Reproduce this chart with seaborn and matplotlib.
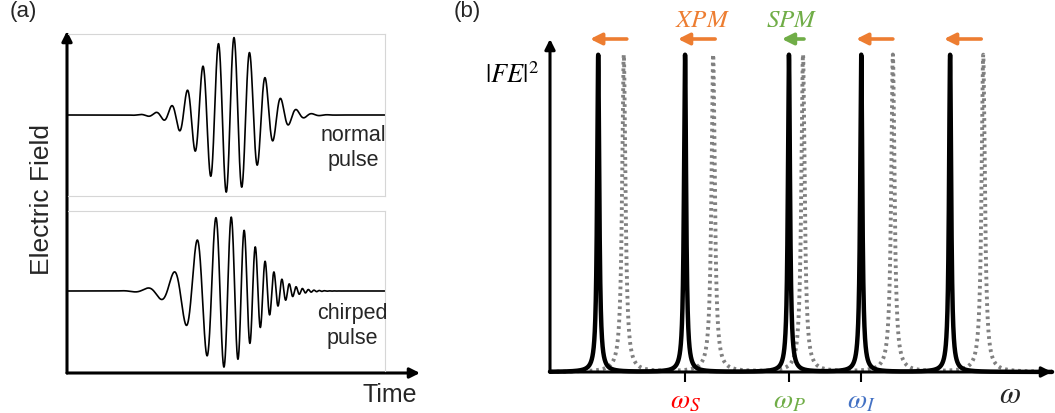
import numpy as np
import matplotlib
matplotlib.use("Agg")
import matplotlib.pyplot as plt
import seaborn as sns
import pandas as pd

# ---------------- Panel (a): pulse parameters (time in a.u.) ----------------
time_range = [68, 385]
normal_center = 230.5
normal_sigma = 28.5
normal_amp = 78
normal_period = 15.6
normal_peak_ref = 234
chirp_center = 224
chirp_sigma = 30
chirp_amp = 77
chirp_ref = 200
# phase (in half-cycles) vs (t - chirp_ref): a + b u + c u^2 + d u^3
chirp_phase_coeffs = [4.290, 0.0984, 0.000529, 3.78e-6]
field_limit = 81

# ---------------- Panel (b): spectra ----------------
omega_range = [0, 10]
solid_peaks = [0.96, 2.69, 4.76, 6.20, 7.97]
dotted_peaks = [1.47, 3.25, 5.04, 6.83, 8.63]
solid_heights = [1, 1, 1, 1, 1]
dotted_heights = [1, 1, 1, 1, 1]
solid_width = 0.026
dotted_width = 0.040
arrow_tails = [1.53, 3.29, 5.06, 6.83, 8.59]
arrow_heads = [0.80, 2.55, 4.62, 6.10, 7.85]
arrow_level = 1.05
ORANGE, GREEN, RED, BLUE = "#ED7D31", "#70AD47", "#FF0000", "#4472C4"
arrow_colors = [ORANGE, ORANGE, GREEN, ORANGE, ORANGE]
tick_pos = [2.69, 4.76, 6.20]
tick_labels = [r"$\omega_S$", r"$\omega_P$", r"$\omega_I$"]
tick_colors = [RED, GREEN, BLUE]

# ---------------- derived curves ----------------
t = np.linspace(time_range[0], time_range[1], 5000)
normal_field = (normal_amp * np.exp(-(t - normal_center) ** 2 / (2 * normal_sigma ** 2))
                * np.cos(2 * np.pi * (t - normal_peak_ref) / normal_period))
u = t - chirp_ref
a, b, c, d = chirp_phase_coeffs
chirp_field = (chirp_amp * np.exp(-(t - chirp_center) ** 2 / (2 * chirp_sigma ** 2))
               * np.cos(np.pi * (a + b * u + c * u ** 2 + d * u ** 3)))
df_normal = pd.DataFrame({"time": t, "field": normal_field})
df_chirp = pd.DataFrame({"time": t, "field": chirp_field})

w = np.linspace(omega_range[0], omega_range[1], 20001)
solid = sum(h / (1 + ((w - p) / solid_width) ** 2) for p, h in zip(solid_peaks, solid_heights))
dotted = sum(h / (1 + ((w - p) / dotted_width) ** 2) for p, h in zip(dotted_peaks, dotted_heights))
df_spec = pd.DataFrame({"omega": w, "solid": solid, "dotted": dotted})

# ---------------- figure ----------------
sns.set_theme(style="white")
plt.rcParams["font.family"] = ["Liberation Sans", "DejaVu Sans"]
plt.rcParams["mathtext.fontset"] = "stix"

W, H = 1055, 414
fig = plt.figure(figsize=(W / 100, H / 100), dpi=100)


def rect(x0, y0, x1, y1):
    return [x0 / W, 1 - y1 / H, (x1 - x0) / W, (y1 - y0) / H]


def ftext(x, y, s, **kw):
    fig.text(x / W, 1 - y / H, s, **kw)


# ---- panel (a) axes arrows
axA = fig.add_axes(rect(67, 32, 420, 374))
axA.axis("off")
axA.set_facecolor("none")
for end in [(0, 1), (1, 0)]:
    axA.annotate("", xy=end, xytext=(0, 0), xycoords="axes fraction",
                 arrowprops=dict(arrowstyle="-|>", color="black", lw=2.2,
                                 mutation_scale=15, shrinkA=0, shrinkB=0),
                 annotation_clip=False)

box_color = "#d6d6d6"
for box, df, hide in [((68, 35, 385, 197), df_normal, ["left"]),
                      ((68, 212, 385, 372), df_chirp, ["left", "bottom"])]:
    ax = fig.add_axes(rect(*box))
    ax.set_facecolor("none")
    sns.lineplot(data=df, x="time", y="field", ax=ax, color="black", lw=1.2)
    ax.set_xlim(time_range)
    ax.set_ylim(-field_limit, field_limit)
    ax.set(xticks=[], yticks=[], xlabel="", ylabel="")
    for name, sp in ax.spines.items():
        sp.set_color(box_color)
        sp.set_linewidth(0.8)
        sp.set_visible(name not in hide)

ftext(353, 148, "normal\npulse", fontsize=15.5, ha="center", va="center", linespacing=1.2)
ftext(352, 326, "chirped\npulse", fontsize=15.5, ha="center", va="center", linespacing=1.2)
ftext(42, 200, "Electric Field", fontsize=19, rotation=90, ha="center", va="center")
ftext(390, 395, "Time", fontsize=18, ha="center", va="center")
ftext(23, 11, "(a)", fontsize=16, ha="center", va="center")
ftext(467, 11, "(b)", fontsize=16, ha="center", va="center")

# ---- panel (b)
axB = fig.add_axes(rect(550, 40, 1052, 373))
axB.set_facecolor("none")
sns.lineplot(data=df_spec, x="omega", y="dotted", ax=axB, color="#808080", lw=2.8,
             linestyle=(0, (0.7, 1.0)), clip_on=False)
sns.lineplot(data=df_spec, x="omega", y="solid", ax=axB, color="black", lw=3.2,
             clip_on=False)
axB.set_xlim(omega_range)
axB.set_ylim(0, 1.05)
axB.set(xlabel="", ylabel="", yticks=[])
for sp in axB.spines.values():
    sp.set_visible(False)
axB.set_xticks(tick_pos)
axB.set_xticklabels(tick_labels, fontsize=20)
for lab, col in zip(axB.get_xticklabels(), tick_colors):
    lab.set_color(col)
axB.tick_params(axis="x", bottom=True, direction="out", length=7, width=1.5,
                color="black", pad=4)
for end in [(0, 1), (1, 0)]:
    axB.annotate("", xy=end, xytext=(0, 0), xycoords="axes fraction",
                 arrowprops=dict(arrowstyle="-|>", color="black", lw=2.2,
                                 mutation_scale=15, shrinkA=0, shrinkB=0),
                 annotation_clip=False)
for x0, x1, col in zip(arrow_tails, arrow_heads, arrow_colors):
    axB.annotate("", xy=(x1, arrow_level), xytext=(x0, arrow_level),
                 arrowprops=dict(arrowstyle="-|>", color=col, lw=2.6,
                                 mutation_scale=17, shrinkA=0, shrinkB=0),
                 annotation_clip=False)
axB.text(3.03, 1.114, r"$XPM$", color=ORANGE, fontsize=18, ha="center", va="center")
axB.text(4.82, 1.114, r"$SPM$", color=GREEN, fontsize=18, ha="center", va="center")
axB.text(-0.22, 0.94, r"$|FE|^2$", color="black", fontsize=19, ha="right", va="center")
ftext(1010, 395, r"$\omega$", fontsize=22, ha="center", va="center")

fig.savefig("out.png", dpi=100)
